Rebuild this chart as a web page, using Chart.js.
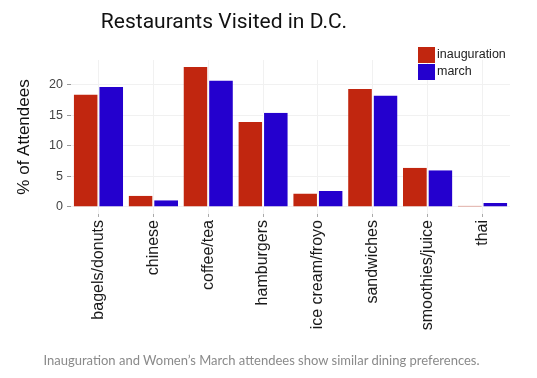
<!DOCTYPE html>
<html>
<head>
    <title>Restaurants Visited in D.C.</title>
    <script src="https://cdn.jsdelivr.net/npm/chart.js@4.4.1/dist/chart.umd.min.js"></script>
    <style>
        body { margin: 0; background: #fff; }
        .wrap { position: relative; width: 537px; height: 378px; }
        #title {
            position: absolute; left: 0; top: 9px; width: 448px;
            text-align: center; font-family: Roboto, sans-serif;
            font-size: 21px; color: #111; line-height: 24px;
        }
        #caption {
            position: absolute; left: 0; top: 351px; width: 523px;
            text-align: center; font-family: Lato, sans-serif;
            font-size: 13px; color: #8a8a8a; line-height: 18px;
        }
        canvas { position: absolute; left: 0; top: 0; }
    </style>
</head>
<body>
    <div class="wrap">
        <canvas id="chart" width="537" height="378"></canvas>
        <div id="title">Restaurants Visited in D.C.</div>
        <div id="caption">Inauguration and Women’s March attendees show similar dining preferences.</div>
    </div>

    <script>
        // data
        const categories = ['bagels/donuts', 'chinese', 'coffee/tea', 'hamburgers',
                            'ice cream/froyo', 'sandwiches', 'smoothies/juice', 'thai'];
        const inauguration = [18.4, 1.85, 22.9, 13.9, 2.2, 19.3, 6.4, 0.2];
        const march = [19.65, 1.1, 20.7, 15.4, 2.6, 18.25, 6.0, 0.65];
        const yTicks = [0, 5, 10, 15, 20];

        const red = '#C1260F';
        const blue = '#2400CE';

        // legend drawn inside the panel, top right
        const legendBox = {
            id: 'legendBox',
            afterDraw(chart) {
                const c = chart.ctx;
                c.save();
                c.font = '12.5px "Liberation Sans", Arial, sans-serif';
                c.textBaseline = 'middle';
                chart.data.datasets.forEach((ds, i) => {
                    const y = 47 + i * 17;
                    c.fillStyle = ds.backgroundColor;
                    c.fillRect(418, y, 17, 16);
                    c.fillStyle = '#222';
                    c.fillText(ds.label, 437, y + 8);
                });
                c.restore();
            }
        };

        new Chart(document.getElementById('chart'), {
            type: 'bar',
            data: {
                labels: categories,
                datasets: [
                    { label: 'inauguration', data: inauguration, backgroundColor: red,
                      borderColor: '#fff', borderWidth: { left: 0, right: 1, top: 0, bottom: 0 } },
                    { label: 'march', data: march, backgroundColor: blue,
                      borderColor: '#fff', borderWidth: { left: 1, right: 0, top: 0, bottom: 0 } }
                ]
            },
            options: {
                responsive: false,
                animation: false,
                devicePixelRatio: 1,
                layout: { padding: { top: 60, right: 27, bottom: 34, left: 0 } },
                plugins: {
                    legend: { display: false },
                    tooltip: { enabled: false }
                },
                datasets: {
                    bar: { categoryPercentage: 0.9, barPercentage: 1 }
                },
                scales: {
                    x: {
                        grid: { offset: false, color: '#f1f1f1', tickColor: '#aaa', tickLength: 3 },
                        border: { display: false },
                        ticks: {
                            minRotation: 90, maxRotation: 90, padding: 3,
                            color: '#1a1a1a',
                            font: { family: '"Liberation Sans", Arial, sans-serif', size: 16 }
                        },
                        afterFit: s => { s.height = 130; }
                    },
                    y: {
                        min: -1.15,
                        max: 24.05,
                        afterBuildTicks: s => { s.ticks = yTicks.map(v => ({ value: v })); },
                        grid: { color: '#f1f1f1', tickColor: '#999', tickLength: 4 },
                        border: { display: false },
                        ticks: {
                            padding: 4,
                            color: '#444',
                            font: { family: '"Liberation Sans", Arial, sans-serif', size: 12.5 }
                        },
                        title: {
                            display: true,
                            text: '% of Attendees',
                            color: '#111',
                            padding: { top: 14, bottom: 0 },
                            font: { family: '"Liberation Sans", Arial, sans-serif', size: 17 }
                        },
                        afterFit: s => { s.width = 71; }
                    }
                }
            },
            plugins: [legendBox]
        });
    </script>
</body>
</html>
